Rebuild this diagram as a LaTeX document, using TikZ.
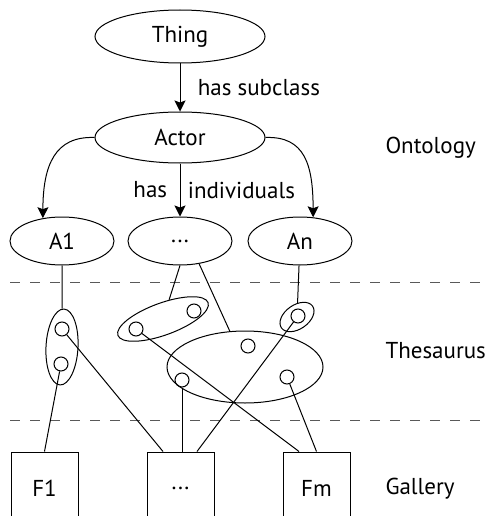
\documentclass[tikz,border=0pt]{standalone}
\usepackage{fontspec}
\setmainfont{PT Sans}
\usetikzlibrary{arrows.meta,shapes.geometric}
\begin{document}
\begin{tikzpicture}[x=1pt,y=-1pt,line width=1pt,
  every node/.style={font=\fontsize{23}{27}\selectfont},
  ell/.style={draw, ellipse, inner sep=0pt},
  dot/.style={draw, circle, minimum size=14pt, inner sep=0pt},
  box/.style={draw, rectangle, minimum width=67pt, minimum height=72pt, inner sep=0pt},
  arr/.style={-{Stealth[length=11pt,width=11pt,inset=2pt]}},
  sep/.style={draw=black!65, dash pattern=on 10pt off 10pt},
  lab/.style={inner sep=0pt, anchor=base west}]
\useasboundingbox (0,0) rectangle (486,516);
\clip (0,0) rectangle (486,516);
% ontology
\node[ell, minimum width=170pt, minimum height=53pt] (thing) at (180,36.5) {Thing};
\node[ell, minimum width=170pt, minimum height=51pt] (actor) at (180,137.5) {Actor};
\node[ell, minimum width=104pt, minimum height=48pt] (a1) at (62,241) {A1};
\node[ell, minimum width=104pt, minimum height=48pt] (ad) at (180,241) {...};
\node[ell, minimum width=104pt, minimum height=48pt] (an) at (300,241) {An};
\draw[arr] (thing) -- node[right, xshift=14pt]{has subclass} (actor);
\draw[arr] (actor) -- node[left, xshift=-9pt]{has} node[right, xshift=4pt]{individuals} (ad);
\draw[arr] (actor.west) .. controls (55,136) and (43,165) .. (a1.130);
\draw[arr] (actor.east) .. controls (305,136) and (313,165) .. (an.61);
% separators
\draw[sep] (10,282) -- (486,282);
\draw[sep] (10,420) -- (486,420);
% thesaurus
\node[ell, minimum width=32pt, minimum height=76pt, rotate=-3] (ve) at (62,347) {};
\node[ell, minimum width=96pt, minimum height=32pt, rotate=20] (te) at (163,319) {};
\node[ell, minimum width=38pt, minimum height=24pt, rotate=35] (re) at (297,317) {};
\node[ell, minimum width=156pt, minimum height=72pt] (big) at (245,367) {};
\node[dot] (v1) at (62,329) {};
\node[dot] (v2) at (61,364) {};
\node[dot] (t1) at (136,329) {};
\node[dot] (t2) at (194,311) {};
\node[dot] (r1) at (298,316) {};
\node[dot] (b1) at (248,346) {};
\node[dot] (b2) at (182,380) {};
\node[dot] (b3) at (287,377) {};
\draw (a1) -- (ve);
\draw (ad.south) -- (te);
\draw (ad.-50) -- (big.113);
\draw (an) -- (re);
% gallery
\node[box] (f1) at (44.5,488) {F1};
\node[box] (gd) at (180.5,488) {...};
\node[box] (fm) at (316.5,488) {Fm};
\draw (v2) -- (f1.north);
\draw (v1) -- ([xshift=-17.5pt]gd.north);
\draw (b2) -- ([xshift=1.5pt]gd.north);
\draw (r1) -- ([xshift=16.5pt]gd.north);
\draw (t1) -- ([xshift=-17.5pt]fm.north);
\draw (b3) -- (fm.north);
% layer labels
\node[lab] (lont) at (385,153) {Ontology};
\node[lab] (lthe) at (385,358) {Thesaurus};
\node[lab] (lgal) at (385,494) {Gallery};
\end{tikzpicture}
\end{document}
